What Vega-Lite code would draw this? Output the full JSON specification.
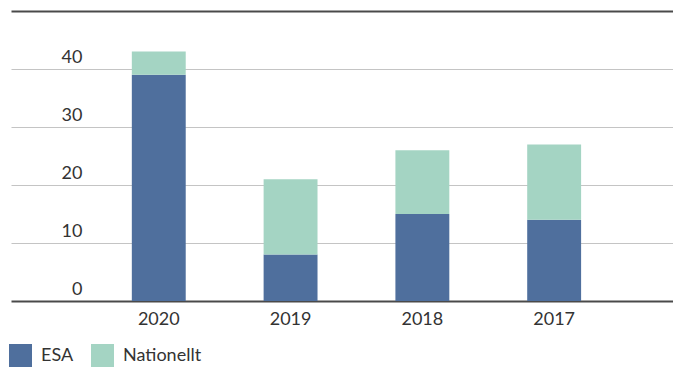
{
  "$schema": "https://vega.github.io/schema/vega-lite/v6.json",
  "width": 662,
  "height": 290,
  "autosize": "none",
  "padding": {"left": 11, "top": 11, "right": 0, "bottom": 66},
  "background": "white",
  "config": {
    "view": {"stroke": null},
    "font": "Lato",
    "text": {"font": "Lato"}
  },
  "data": {
    "values": [
      {"year": "2020", "type": "ESA", "value": 39},
      {"year": "2020", "type": "Nationellt", "value": 4},
      {"year": "2019", "type": "ESA", "value": 8},
      {"year": "2019", "type": "Nationellt", "value": 13},
      {"year": "2018", "type": "ESA", "value": 15},
      {"year": "2018", "type": "Nationellt", "value": 11},
      {"year": "2017", "type": "ESA", "value": 14},
      {"year": "2017", "type": "Nationellt", "value": 13}
    ]
  },
  "mark": {"type": "bar"},
  "encoding": {
    "x": {
      "field": "year",
      "type": "nominal",
      "sort": ["2020", "2019", "2018", "2017"],
      "scale": {"paddingInner": 0.591, "paddingOuter": 0.807, "align": 0.568},
      "axis": {
        "title": null,
        "domain": false,
        "ticks": false,
        "labelAngle": 0,
        "labelFont": "Lato",
        "labelFontSize": 18,
        "labelColor": "#333333",
        "labelPadding": 9,
        "labelBaseline": "top"
      }
    },
    "y": {
      "field": "value",
      "type": "quantitative",
      "aggregate": "sum",
      "stack": "zero",
      "scale": {"domain": [0, 50], "nice": false},
      "axis": {
        "title": null,
        "values": [0, 10, 20, 30, 40, 50],
        "domain": false,
        "ticks": false,
        "tickSize": 0,
        "labelExpr": "datum.value == 50 ? '' : datum.label",
        "labelAlign": "right",
        "labelBaseline": "alphabetic",
        "labelPadding": -71,
        "labelOffset": -7,
        "labelFont": "Lato",
        "labelFontSize": 18,
        "labelColor": "#333333",
        "grid": true,
        "gridColor": {"condition": {"test": "datum.value == 0 || datum.value == 50", "value": "#4a4a4a"}, "value": "#c4c4c4"},
        "gridWidth": {"condition": {"test": "datum.value == 0 || datum.value == 50", "value": 2}, "value": 1.2}
      }
    },
    "color": {
      "field": "type",
      "type": "nominal",
      "scale": {"domain": ["ESA", "Nationellt"], "range": ["#4f6f9d", "#a4d4c3"]},
      "legend": {
        "title": null,
        "orient": "none",
        "direction": "horizontal",
        "legendX": -2,
        "legendY": 333,
        "symbolType": "square",
        "symbolSize": 529,
        "symbolStrokeWidth": 0,
        "labelFont": "Lato",
        "labelFontSize": 18,
        "labelColor": "#333333",
        "labelBaseline": "middle",
        "labelOffset": 9,
        "columnPadding": 17
      }
    },
    "order": {"field": "type", "sort": "ascending"}
  }
}
